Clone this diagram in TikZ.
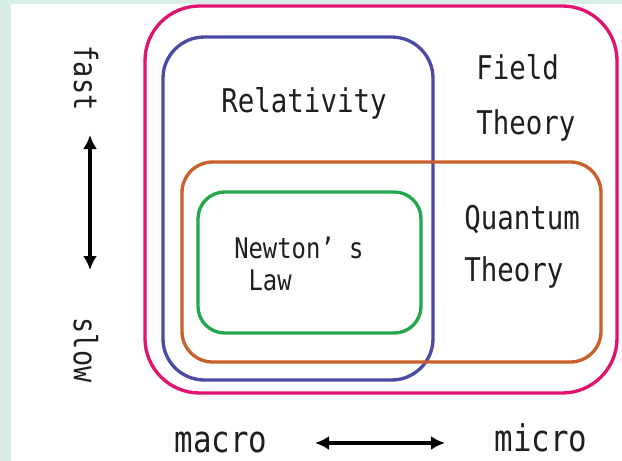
\documentclass[tikz,border=0pt]{standalone}
\usepackage{fontspec}
\newfontfamily\gothic[FakeStretch=0.84]{DejaVu Sans Mono}
\usetikzlibrary{arrows.meta}
\definecolor{bgmint}{HTML}{D8EDE6}
\definecolor{fieldpink}{HTML}{E0146E}
\definecolor{relblue}{HTML}{4B4BA6}
\definecolor{quantorange}{HTML}{C8602C}
\definecolor{newtgreen}{HTML}{22A84A}
\begin{document}
\begin{tikzpicture}[x=0.75pt,y=-0.75pt,
  every node/.style={inner sep=0pt,text=black!88},
  regionbox/.style={line width=2.5pt,rounded corners=#1},
  lbl/.style={font=\gothic\fontsize{24.5}{39}\selectfont},
  axislbl/.style={font=\gothic\fontsize{24}{28}\selectfont,rotate=-90},
  scalelbl/.style={font=\gothic\fontsize{27.5}{32}\selectfont,anchor=base},
  axisarrow/.style={{Latex[length=10.5pt,width=10.5pt]}-{Latex[length=10.5pt,width=10.5pt]},line width=2.5pt}]
  % frame
  \fill[bgmint] (0,0) rectangle (622,461);
  \fill[white] (11,4) rectangle (622,461);
  \useasboundingbox (0,0) rectangle (622,461);

  % nested regions
  \draw[regionbox=41pt,fieldpink] (145,6) rectangle (617,393);
  \draw[regionbox=31pt,relblue] (163,37) rectangle (433,380);
  \draw[regionbox=23pt,quantorange] (182,162) rectangle (601,362);
  \draw[regionbox=20pt,newtgreen] (198,192) rectangle (421,333);

  % region labels
  \node[lbl,anchor=base] (relativity) at (304,112) {Relativity};
  \node[lbl,anchor=north west,align=left,
    font=\gothic\fontsize{24.5}{41.5}\selectfont] (field) at (476,54) {Field\\Theory};
  \node[lbl,anchor=north west,align=left] (quantum) at (464,205) {Quantum\\Theory};
  \node[font=\gothic\fontsize{21.3}{24}\selectfont,anchor=north west,align=left]
    (newton) at (234,237) {Newton’ s\\~Law};

  % speed axis
  \node[axislbl] (fast) at (86,78) {fast};
  \node[axislbl] (slow) at (86,350) {slow};
  \coordinate (fastEnd) at (90,135);
  \coordinate (slowEnd) at (90,270);
  \draw[axisarrow] (fastEnd) -- (slowEnd);

  % scale axis
  \node[scalelbl] (macro) at (221,452) {macro};
  \node[scalelbl] (micro) at (541,451) {micro};
  \coordinate (macroEnd) at (315,443);
  \coordinate (microEnd) at (445,443);
  \draw[axisarrow] (macroEnd) -- (microEnd);
\end{tikzpicture}
\end{document}
